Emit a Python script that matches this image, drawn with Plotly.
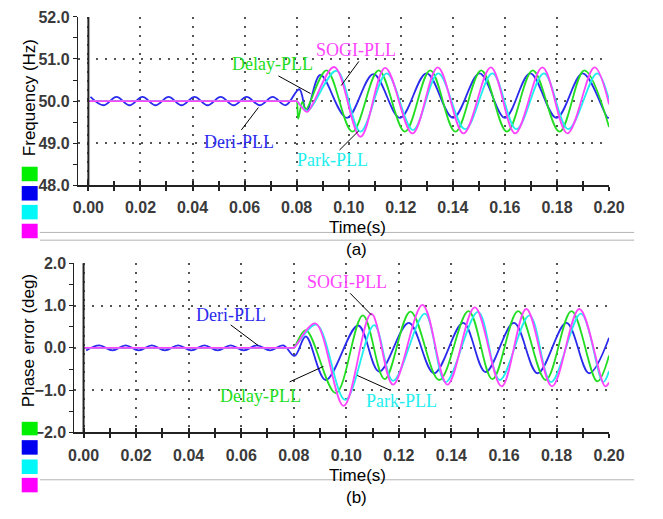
import plotly.graph_objects as go

# ---------------- data ----------------
# (a) Frequency (Hz)
deri_f_t = [0.0008, 0.0058, 0.0108, 0.0158, 0.0208, 0.0258, 0.0308, 0.0358, 0.0408, 0.0458,
            0.0508, 0.0558, 0.0608, 0.0658, 0.0708, 0.0758, 0.0810, 0.0838, 0.0891, 0.0993,
            0.1095, 0.1197, 0.1299, 0.1401, 0.1503, 0.1600, 0.1697, 0.1798, 0.1899, 0.1995, 0.2000]
deri_f_v = [50.10, 49.90, 50.10, 49.90, 50.10, 49.90, 50.10, 49.90, 50.10, 49.90,
            50.10, 49.90, 50.10, 49.90, 50.10, 49.90, 50.28, 49.76, 50.62, 49.60,
            50.64, 49.60, 50.66, 49.60, 50.66, 49.60, 50.66, 49.60, 50.66, 49.60, 49.61]

delay_f_t = [0.0, 0.0400, 0.0795, 0.0800, 0.0806, 0.0822, 0.0835, 0.0915, 0.1014, 0.1115, 0.1216, 0.1313,
             0.1410, 0.1509, 0.1608, 0.1707, 0.1810, 0.1905, 0.2000]
delay_f_v = [50.0, 50.0, 50.0, 50.0, 49.58, 49.98, 49.80, 50.73, 49.27, 50.73, 49.27, 50.73,
             49.27, 50.73, 49.27, 50.73, 49.27, 50.73, 49.38]

park_f_t = [0.0, 0.0400, 0.0795, 0.0800, 0.0822, 0.0842, 0.0953, 0.1045, 0.1146, 0.1247, 0.1344, 0.1447,
            0.1552, 0.1644, 0.1750, 0.1843, 0.1954, 0.2000]
park_f_v = [50.0, 50.0, 50.0, 50.0, 49.85, 49.76, 50.72, 49.27, 50.66, 49.31, 50.66, 49.33,
            50.66, 49.33, 50.66, 49.33, 50.66, 50.02]

sogi_f_t = [0.0, 0.0400, 0.0795, 0.0800, 0.0820, 0.0840, 0.0944, 0.1045, 0.1140, 0.1245, 0.1342, 0.1441,
            0.1546, 0.1639, 0.1744, 0.1840, 0.1944, 0.2000]
sogi_f_v = [50.0, 50.0, 50.0, 50.0, 49.85, 49.74, 50.81, 49.15, 50.79, 49.23, 50.80, 49.23,
            50.80, 49.23, 50.80, 49.23, 50.80, 49.92]

# (b) Phase error (deg)
deri_p_t = [0.001, 0.006, 0.011, 0.016, 0.021, 0.026, 0.031, 0.036, 0.041, 0.046,
            0.051, 0.056, 0.061, 0.066, 0.071, 0.076, 0.0803, 0.0846, 0.0922, 0.1045,
            0.1125, 0.1238, 0.1334, 0.1445, 0.1530, 0.1638, 0.1728, 0.1838, 0.1924, 0.2000]
deri_p_v = [-0.06, 0.06, -0.06, 0.06, -0.06, 0.06, -0.06, 0.06, -0.06, 0.06,
            -0.06, 0.06, -0.06, 0.06, -0.06, 0.06, -0.19, 0.27, -0.76, 0.53,
            -0.56, 0.59, -0.60, 0.59, -0.57, 0.59, -0.60, 0.59, -0.60, 0.24]

delay_p_t = [0.0, 0.0400, 0.0795, 0.0800, 0.0846, 0.0960, 0.1063, 0.1146, 0.1244, 0.1354, 0.1465, 0.1556,
             0.1654, 0.1759, 0.1857, 0.1955, 0.2000]
delay_p_v = [0.0, 0.0, 0.0, 0.0, 0.42, -1.07, 0.77, -0.74, 0.86, -0.76, 0.87, -0.74,
             0.87, -0.76, 0.87, -0.79, -0.18]

park_p_t = [0.0, 0.0400, 0.0795, 0.0800, 0.0886, 0.0996, 0.1106, 0.1178, 0.1299, 0.1378, 0.1501, 0.1584,
            0.1697, 0.1779, 0.1893, 0.1977, 0.2000]
park_p_v = [0.0, 0.0, 0.0, 0.0, 0.55, -1.23, 0.54, -0.78, 0.81, -0.81, 0.85, -0.76,
            0.77, -0.81, 0.81, -0.81, -0.55]

sogi_p_t = [0.0, 0.0400, 0.0795, 0.0800, 0.0882, 0.0990, 0.1095, 0.1178, 0.1290, 0.1385, 0.1489, 0.1591,
            0.1685, 0.1783, 0.1887, 0.1985, 0.2000]
sogi_p_v = [0.0, 0.0, 0.0, 0.0, 0.58, -1.37, 0.81, -0.87, 1.02, -0.87, 0.96, -0.91,
            0.92, -0.91, 0.92, -0.91, -0.82]

x_tick_vals = [0.00, 0.02, 0.04, 0.06, 0.08, 0.10, 0.12, 0.14, 0.16, 0.18, 0.20]
freq_ticks = [48.0, 49.0, 50.0, 51.0, 52.0]
phase_ticks = [-2.0, -1.0, 0.0, 1.0, 2.0]

names = ["Delay-PLL", "Deri-PLL", "Park-PLL", "SOGI-PLL"]
line_colors = {"Delay-PLL": "#22dd22", "Deri-PLL": "#2b2bee", "Park-PLL": "#22eeee", "SOGI-PLL": "#ff44ff"}
box_colors = {"Delay-PLL": "#00f000", "Deri-PLL": "#0000f0", "Park-PLL": "#00f8f8", "SOGI-PLL": "#ff00ff"}

# ---------------- figure ----------------
# the page body keeps its default 8px margin, so the figure is 16px smaller than the window
OFF = 8
W, H = 663 - 2 * OFF, 519 - 2 * OFF
def px(x): return (x - OFF) / W
def py(y): return 1 - (y - OFF) / H

fig = go.Figure()

top = {"Deri-PLL": (deri_f_t, deri_f_v), "Delay-PLL": (delay_f_t, delay_f_v),
       "Park-PLL": (park_f_t, park_f_v), "SOGI-PLL": (sogi_f_t, sogi_f_v)}
bot = {"Deri-PLL": (deri_p_t, deri_p_v), "Delay-PLL": (delay_p_t, delay_p_v),
       "Park-PLL": (park_p_t, park_p_v), "SOGI-PLL": (sogi_p_t, sogi_p_v)}
order = ["Deri-PLL", "Delay-PLL", "Park-PLL", "SOGI-PLL"]
for n in order:
    t, v = top[n]
    fig.add_trace(go.Scatter(x=t, y=v, mode="lines", name=n, showlegend=False,
                             line=dict(color=line_colors[n], width=1.8, shape="spline", smoothing=1),
                             xaxis="x", yaxis="y"))
for n in order:
    t, v = bot[n]
    fig.add_trace(go.Scatter(x=t, y=v, mode="lines", name=n, showlegend=False,
                             line=dict(color=line_colors[n], width=1.8, shape="spline", smoothing=1),
                             xaxis="x2", yaxis="y2"))
# empty traces to host overlay axes (inside tick marks)
fig.add_trace(go.Scatter(x=[], y=[], xaxis="x3", yaxis="y", showlegend=False))
fig.add_trace(go.Scatter(x=[], y=[], xaxis="x4", yaxis="y2", showlegend=False))

tickfont = dict(family="Liberation Sans, Arial, sans-serif", size=16, color="#3a3a3a", weight="bold")
grid = dict(showgrid=True, gridcolor="#555555", gridwidth=1.5, griddash="2px,7px", zeroline=False)

def xax(domain, rng):
    return dict(domain=domain, range=rng, showline=True, linecolor="#222222", linewidth=2,
                ticks="outside", ticklen=4, tickwidth=1.5, tickcolor="#222222",
                tickvals=x_tick_vals, tickformat=".2f", tickfont=tickfont, ticklabelstandoff=3,
                minor=dict(dtick=0.01, tick0=0, ticks="outside", ticklen=4, tickwidth=1.5,
                           tickcolor="#222222", showgrid=False),
                **grid)

def xover(domain, rng, over, anchor):
    return dict(domain=domain, range=rng, overlaying=over, anchor=anchor, side="bottom",
                showline=False, showgrid=False, zeroline=False, showticklabels=False,
                ticks="inside", ticklen=4, tickwidth=1.5, tickcolor="#222222", dtick=0.01, tick0=0)

def yax(domain, rng, vals):
    return dict(domain=domain, range=rng, showline=True, linecolor="#222222", linewidth=1,
                ticks="outside", ticklen=4, tickwidth=1, tickcolor="#222222",
                tickvals=vals, tickformat=".1f", tickfont=tickfont,
                minor=dict(dtick=0.5, tick0=0, ticks="outside", ticklen=4, tickwidth=1,
                           tickcolor="#222222", showgrid=False),
                **grid)

xd1 = [px(74), px(624)]
xr1 = [-11 / 2695, 0.2]
xd2 = [px(70.5), px(624)]
xr2 = [-9.5 / 2720, 0.2]

fig.update_layout(
    width=W, height=H, autosize=False,
    margin=dict(l=0, r=0, t=0, b=0),
    paper_bgcolor="white", plot_bgcolor="white",
    xaxis=dict(anchor="y", **xax(xd1, xr1)),
    yaxis=dict(anchor="x", **yax([py(183), py(9)], [48, 52], freq_ticks)),
    xaxis2=dict(anchor="y2", **xax(xd2, xr2)),
    yaxis2=dict(anchor="x2", **yax([py(439), py(264)], [-2, 2], phase_ticks)),
    xaxis3=xover(xd1, xr1, "x", "y"),
    xaxis4=xover(xd2, xr2, "x2", "y2"),
)

shapes = []
# thick vertical line at t = 0
shapes.append(dict(type="line", xref="x", yref="y domain", x0=0, x1=0, y0=0, y1=1,
                   line=dict(color="#222222", width=2)))
shapes.append(dict(type="line", xref="x2", yref="y2 domain", x0=0, x1=0, y0=0, y1=1,
                   line=dict(color="#222222", width=2)))
# colour boxes
top_boxes = [(164, 179), (184, 199), (203.5, 218.5), (223, 238)]
bot_boxes = [(428, 442), (447, 462), (467, 482), (486, 501)]
for n, (a, b) in zip(names, top_boxes):
    shapes.append(dict(type="rect", xref="paper", yref="paper", x0=px(16), x1=px(32.5),
                       y0=py(b), y1=py(a), fillcolor=box_colors[n], line=dict(width=0)))
for n, (a, b) in zip(names, bot_boxes):
    shapes.append(dict(type="rect", xref="paper", yref="paper", x0=px(16), x1=px(32.5),
                       y0=py(b), y1=py(a), fillcolor=box_colors[n], line=dict(width=0)))
# grey separator lines
for yy in (232, 240, 488):
    shapes.append(dict(type="line", xref="paper", yref="paper", x0=px(35), x1=px(650),
                       y0=py(yy), y1=py(yy), line=dict(color="#b4b4b4", width=1)))
# leader lines
leaders = [((281.7, 70), (315, 88.3)), ((243.3, 126), (261, 102.7)),
           ((365, 55), (346.7, 80)), ((345, 146.7), (365, 126.7)),
           ((232.3, 327.7), (260.7, 349)), ((293.3, 386.7), (328.3, 370.7)),
           ((356, 295), (378.3, 317.7)), ((363.3, 380), (396.7, 395))]
for (x0, y0), (x1, y1) in leaders:
    shapes.append(dict(type="line", xref="paper", yref="paper", x0=px(x0), y0=py(y0),
                       x1=px(x1), y1=py(y1), line=dict(color="black", width=1)))
fig.update_layout(shapes=shapes)

ann = []
serif = "Liberation Serif, Times New Roman, serif"
labels = [("Delay-PLL", 276, 58), ("Deri-PLL", 241, 138), ("SOGI-PLL", 362.5, 43.5), ("Park-PLL", 337.5, 157.5),
          ("Deri-PLL", 232.5, 317), ("Delay-PLL", 263.3, 401), ("SOGI-PLL", 352.5, 283.3), ("Park-PLL", 409, 406)]
for n, x, y in labels:
    ann.append(dict(text=n, xref="paper", yref="paper", x=px(x), y=py(y), showarrow=False,
                    xanchor="center", yanchor="middle",
                    font=dict(family=serif, size=18, color=line_colors[n])))
sans = "Liberation Sans, Arial, sans-serif"
for txt, x, y, ang in [("Frequency (Hz)", 23.5, 92, -90), ("Phase error (deg)", 23, 344, -90),
                       ("Time(s)", 364, 227, 0), ("(a)", 363, 250, 0),
                       ("Time(s)", 364, 484, 0), ("(b)", 363, 506, 0)]:
    ann.append(dict(text=txt, xref="paper", yref="paper", x=px(x), y=py(y), showarrow=False,
                    xanchor="center", yanchor="middle", textangle=ang,
                    font=dict(family=sans, size=17, color="black")))
fig.update_layout(annotations=ann)

fig.write_html("out.html", config={"displayModeBar": False})
